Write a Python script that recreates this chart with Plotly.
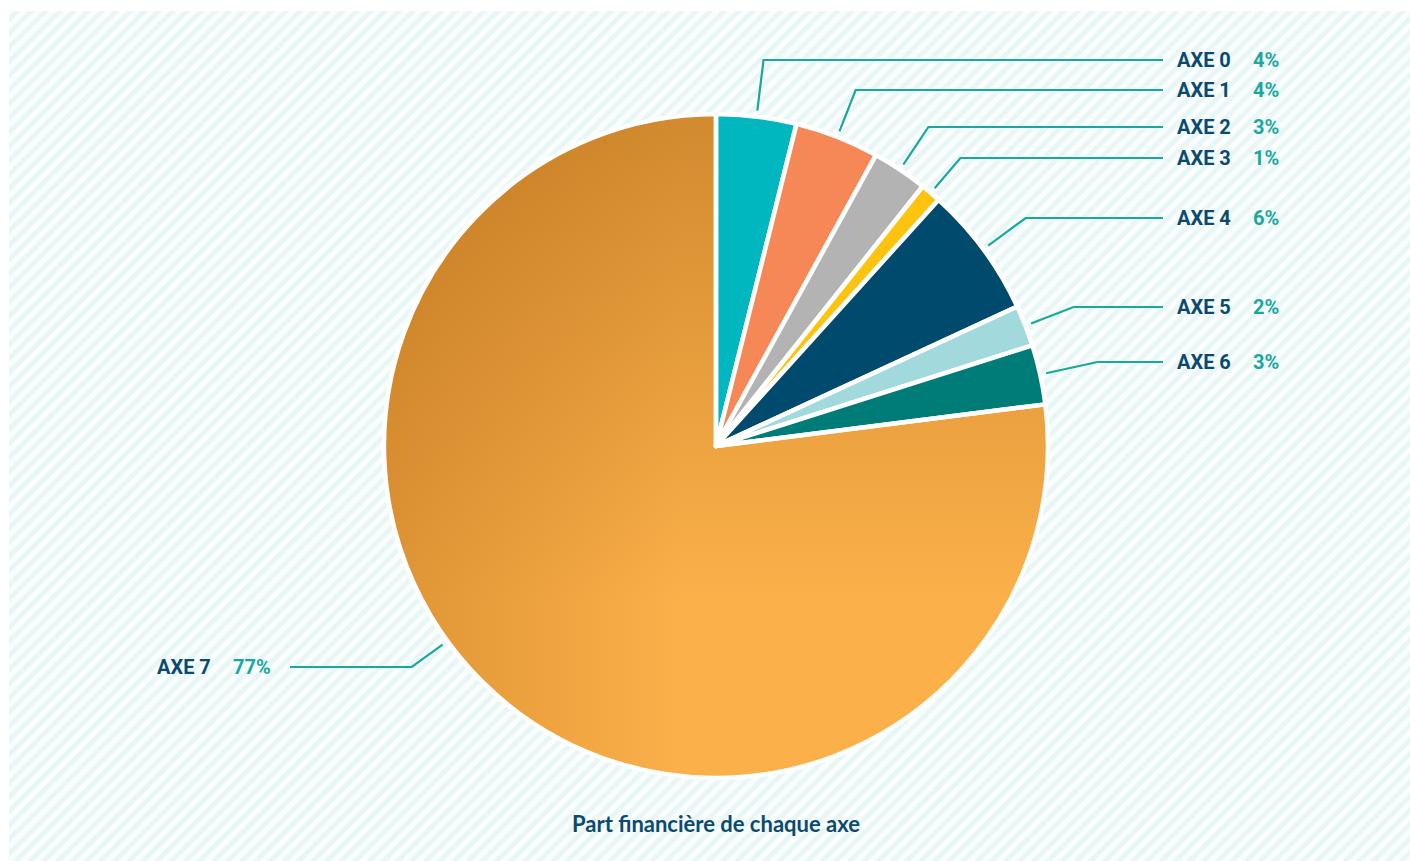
import math
import plotly.graph_objects as go

# ---------------- data ----------------
categories = ["AXE 0", "AXE 1", "AXE 2", "AXE 3", "AXE 4", "AXE 5", "AXE 6", "AXE 7"]
values = [3.9, 4.1, 2.7, 1.0, 6.4, 2.0, 2.9, 77.0]
colors = ["#00b6bf", "#f68757", "#b3b3b3", "#fdc30f", "#004a6e", "#a1d9dc", "#007c78", "#fbb04a"]
title_text = "Part financière de chaque axe"

# ---------------- layout constants (pixels) ----------------
W, H = 1410, 861
CX, CY, R = 716, 446, 332
label_y = [60, 90, 127, 158, 218, 307, 362, 667]
angle_override = {7: 234.0}          # leader anchor angle for the big slice
DARK = "#0b4a6f"
TEAL = "#19a89e"


def px(x):
    return x / W


def py(y):
    return 1 - y / H


fig = go.Figure()

# hatched background
fig.add_trace(go.Scatter(
    x=[9, W, W, 9, 9], y=[0, 0, H - 11, H - 11, 0],
    fill="toself", mode="lines", line=dict(width=0),
    fillcolor="white",
    fillpattern=dict(shape="/", size=10, solidity=0.5, fgcolor="#d8eeee", bgcolor="#fbfefe"),
    hoverinfo="skip", showlegend=False))

# geometry from values
total = sum(values)
cum = [0]
for v in values:
    cum.append(cum[-1] + v)

# gradient fill for the big slice (drawn under a transparent pie slice)
a0 = cum[7] / total * 360
a1 = 360.0
n = 200
gx, gy = [CX], [H - CY]
for i in range(n + 1):
    a = math.radians(a0 + (a1 - a0) * i / n)
    gx.append(CX + (R + 1) * math.sin(a))
    gy.append(H - (CY - (R + 1) * math.cos(a)))
gx.append(CX)
gy.append(H - CY)
fig.add_trace(go.Scatter(
    x=gx, y=gy, fill="toself", mode="lines", line=dict(width=0),
    fillgradient=dict(type="vertical", colorscale=[[0, "#fbb04a"], [1, "#d28a2f"]],
                      start=H - 600, stop=H - 114),
    hoverinfo="skip", showlegend=False))
fig.add_trace(go.Scatter(
    x=gx, y=gy, fill="toself", mode="lines", line=dict(width=0),
    fillgradient=dict(type="horizontal",
                      colorscale=[[0, "rgba(165,90,10,0.32)"], [1, "rgba(165,90,10,0)"]],
                      start=385, stop=680),
    hoverinfo="skip", showlegend=False))

# pie
pie_colors = colors[:7] + ["rgba(0,0,0,0)"]
fig.add_trace(go.Pie(
    labels=categories, values=values, sort=False, direction="clockwise", rotation=0,
    marker=dict(colors=pie_colors, line=dict(color="white", width=4.5)),
    textinfo="none", hoverinfo="label+percent", showlegend=False,
    domain=dict(x=[px(CX - R), px(CX + R)], y=[py(CY + R), py(CY - R)])))

# leader lines + labels
annotations = []
for i, cat in enumerate(categories):
    ang = angle_override.get(i, (cum[i] + cum[i + 1]) / 2 / total * 360)
    a = math.radians(ang)
    sx, sy = CX + 338 * math.sin(a), CY - 338 * math.cos(a)
    ly = label_y[i]
    r1 = (ly - CY) / (-math.cos(a))
    ex, ey = CX + r1 * math.sin(a), ly
    right = math.sin(a) > 0
    endx = 1163 if right else 290
    fig.add_trace(go.Scatter(
        x=[sx, ex, endx], y=[H - sy, H - ey, H - ey], mode="lines",
        line=dict(color=TEAL, width=2.2), hoverinfo="skip", showlegend=False))
    pct = f"{round(values[i] / total * 100)}%"
    lx = 1175 if right else 155
    annotations.append(dict(x=px(lx), y=py(ly), xref="paper", yref="paper", text=cat,
                            xanchor="left", yanchor="middle", showarrow=False,
                            font=dict(family="Roboto", size=20, color=DARK, weight="bold")))
    annotations.append(dict(x=px(lx + 76), y=py(ly), xref="paper", yref="paper", text=pct,
                            xanchor="left", yanchor="middle", showarrow=False,
                            font=dict(family="Roboto", size=20, color=TEAL, weight="bold")))

annotations.append(dict(x=px(CX), y=py(823), xref="paper", yref="paper", text=title_text,
                        xanchor="center", yanchor="middle", showarrow=False,
                        font=dict(family="Lato", size=22, color=DARK, weight="bold")))

fig.update_layout(
    width=W, height=H, margin=dict(l=0, r=0, t=0, b=0),
    paper_bgcolor="white", plot_bgcolor="rgba(0,0,0,0)",
    xaxis=dict(range=[0, W], visible=False, fixedrange=True, domain=[0, 1]),
    yaxis=dict(range=[0, H], visible=False, fixedrange=True, domain=[0, 1]),
    annotations=annotations, showlegend=False)

fig.write_html("out.html", config={"displayModeBar": False},
               post_script="document.body.style.margin='0';document.body.style.overflow='hidden';")
